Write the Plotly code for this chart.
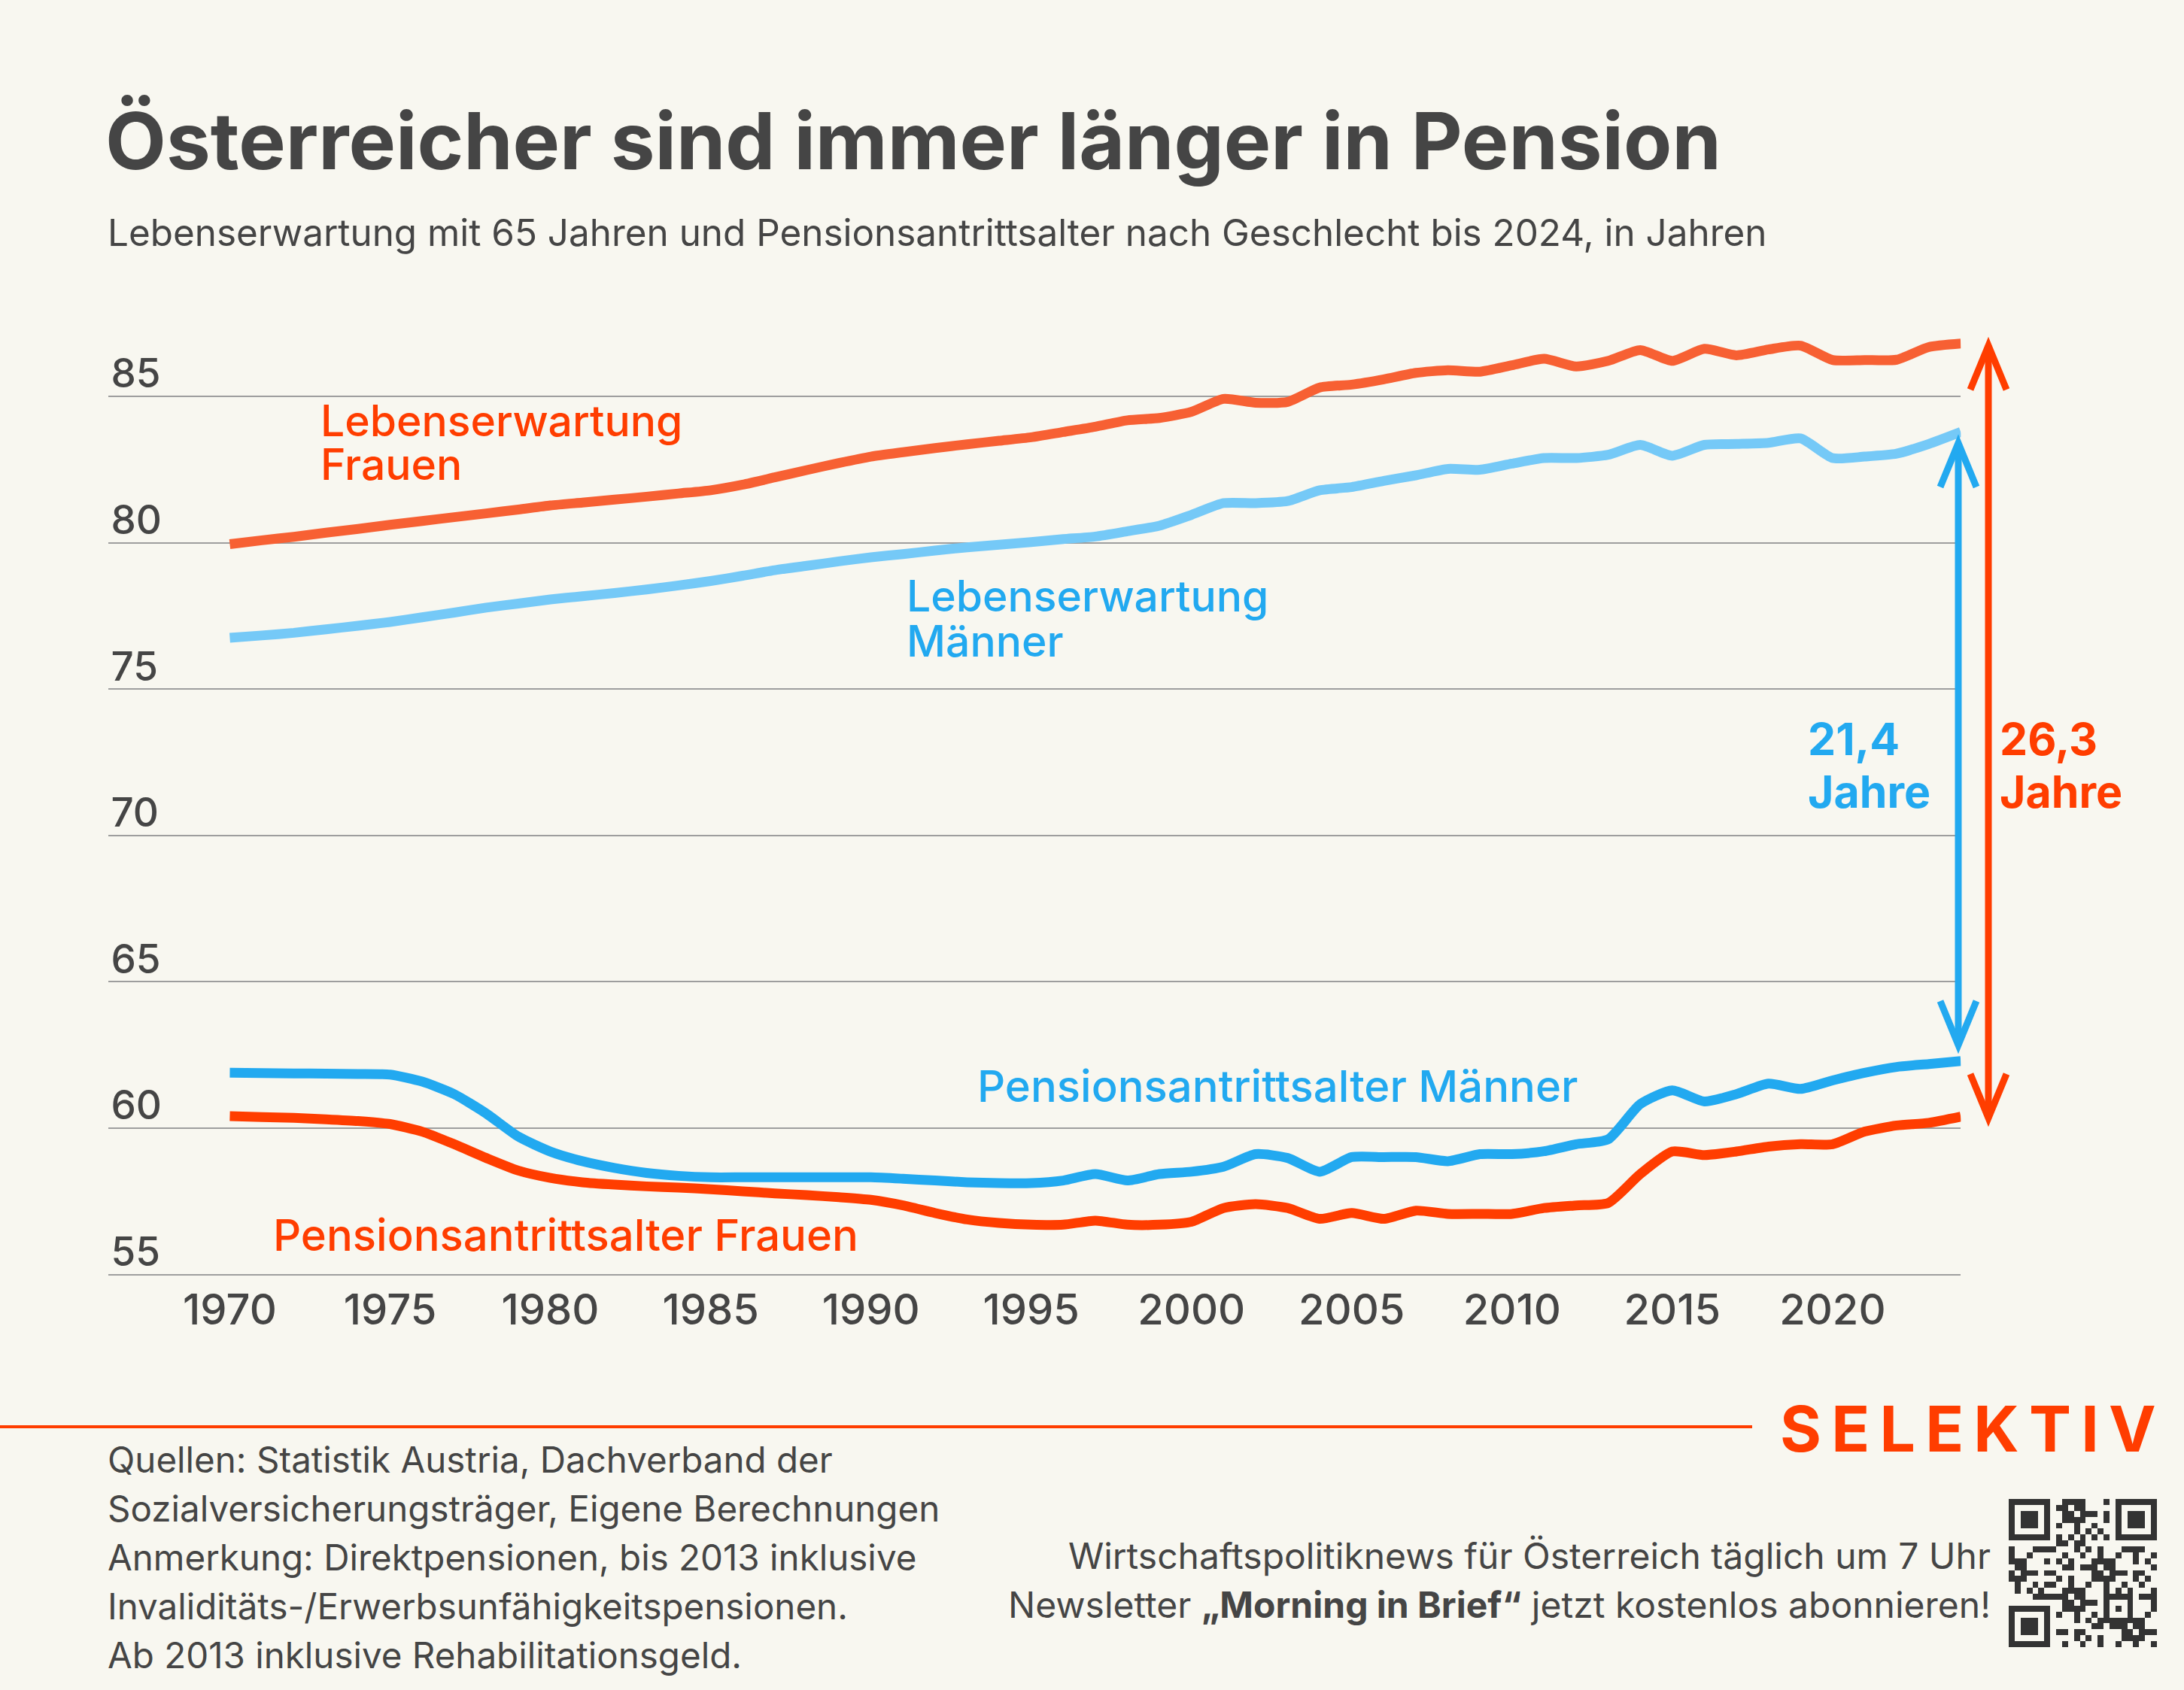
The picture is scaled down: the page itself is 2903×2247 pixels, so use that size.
import plotly.graph_objects as go

W, H = 2903, 2247
FONT = "Inter"
BG = "#F8F7F0"
DARK = "#454545"
RED = "#FF3D00"
RED_LIGHT = "#F76033"
BLUE = "#22A9F0"
BLUE_LIGHT = "#75C9F7"

years = list(range(1970, 2025))

le_frauen = [79.95, 80.08, 80.20, 80.34, 80.47, 80.61, 80.74, 80.87, 81.00, 81.13,
             81.27, 81.37, 81.47, 81.57, 81.68, 81.79, 81.98, 82.23, 82.48, 82.72,
             82.94, 83.09, 83.23, 83.36, 83.48, 83.60, 83.78, 83.96, 84.18, 84.26,
             84.47, 84.91, 84.78, 84.81, 85.30, 85.40, 85.58, 85.80, 85.89, 85.84,
             86.06, 86.28, 86.02, 86.21, 86.58, 86.21, 86.62, 86.40, 86.60, 86.73,
             86.24, 86.24, 86.25, 86.68, 86.80]

le_maenner = [76.75, 76.83, 76.92, 77.04, 77.16, 77.29, 77.45, 77.61, 77.78, 77.92,
              78.06, 78.17, 78.28, 78.40, 78.54, 78.69, 78.87, 79.06, 79.21, 79.36,
              79.50, 79.61, 79.73, 79.84, 79.93, 80.02, 80.12, 80.21, 80.39, 80.58,
              80.95, 81.35, 81.35, 81.42, 81.79, 81.90, 82.11, 82.30, 82.52, 82.49,
              82.70, 82.89, 82.89, 83.00, 83.34, 82.97, 83.34, 83.37, 83.41, 83.56,
              82.89, 82.94, 83.04, 83.37, 83.78]

pa_maenner = [61.89, 61.88, 61.87, 61.86, 61.85, 61.83, 61.59, 61.16, 60.50, 59.71,
              59.20, 58.87, 58.64, 58.47, 58.37, 58.32, 58.32, 58.32, 58.32, 58.32,
              58.32, 58.27, 58.21, 58.15, 58.12, 58.12, 58.21, 58.43, 58.21, 58.43,
              58.51, 58.68, 59.11, 58.98, 58.51, 59.01, 59.01, 59.01, 58.87, 59.11,
              59.11, 59.21, 59.45, 59.62, 60.82, 61.29, 60.91, 61.16, 61.52, 61.34,
              61.63, 61.89, 62.09, 62.19, 62.29]

pa_frauen = [60.41, 60.38, 60.35, 60.30, 60.24, 60.14, 59.88, 59.45, 58.98, 58.55,
             58.30, 58.15, 58.07, 58.01, 57.97, 57.91, 57.84, 57.77, 57.71, 57.64,
             57.55, 57.36, 57.10, 56.88, 56.76, 56.70, 56.70, 56.84, 56.70, 56.70,
             56.80, 57.27, 57.40, 57.27, 56.90, 57.10, 56.90, 57.18, 57.07, 57.07,
             57.07, 57.27, 57.36, 57.44, 58.43, 59.20, 59.08, 59.20, 59.37, 59.45,
             59.45, 59.88, 60.09, 60.18, 60.39]

x_ticks = [1970, 1975, 1980, 1985, 1990, 1995, 2000, 2005, 2010, 2015, 2020]
y_ticks = [55, 60, 65, 70, 75, 80, 85]

gap_maenner = "21,4"
gap_frauen = "26,3"

source_lines = [
    "Quellen: Statistik Austria, Dachverband der",
    "Sozialversicherungsträger, Eigene Berechnungen",
    "Anmerkung: Direktpensionen, bis 2013 inklusive",
    "Invaliditäts-/Erwerbsunfähigkeitspensionen.",
    "Ab 2013 inklusive Rehabilitationsgeld.",
]
promo_lines = [
    "Wirtschaftspolitiknews für Österreich täglich um 7 Uhr",
    "Newsletter <b>„Morning in Brief“</b> jetzt kostenlos abonnieren!",
]


def px(x):
    return x / W


def py(y):
    return 1 - y / H


fig = go.Figure()

series = [
    (le_maenner, BLUE_LIGHT, 13),
    (le_frauen, RED_LIGHT, 13),
    (pa_maenner, BLUE, 13),
    (pa_frauen, RED, 13),
]
for vals, col, lw in series:
    fig.add_trace(go.Scatter(
        x=years, y=vals, mode="lines",
        line=dict(color=col, width=lw, shape="spline", smoothing=0.6),
        hoverinfo="skip", showlegend=False,
    ))

# decorative QR-like block in the footer
n = 25
qr = [[0] * n for _ in range(n)]
for r in range(n):
    for c in range(n):
        qr[r][c] = 1 if ((r * 7 + c * 11 + r * c) % 5 < 2) ^ ((r + c) % 3 == 0) else 0
for r0, c0 in [(0, 0), (0, n - 7), (n - 7, 0)]:
    for r in range(-1, 8):
        for c in range(-1, 8):
            rr, cc = r0 + r, c0 + c
            if 0 <= rr < n and 0 <= cc < n:
                edge = r in (0, 6) or c in (0, 6)
                core = 2 <= r <= 4 and 2 <= c <= 4
                inside = 0 <= r <= 6 and 0 <= c <= 6
                qr[rr][cc] = 1 if inside and (edge or core) else 0
for i in range(8, n - 8):
    qr[6][i] = 1 - i % 2
    qr[i][6] = 1 - i % 2
for r in range(5):
    for c in range(5):
        qr[16 + r][16 + c] = 1 if r in (0, 4) or c in (0, 4) or (r == 2 and c == 2) else 0
fig.add_trace(go.Heatmap(
    z=qr, xaxis="x2", yaxis="y2", showscale=False, hoverinfo="skip",
    colorscale=[[0, BG], [1, "#333333"]], zmin=0, zmax=1,
))

fig.update_layout(
    width=W, height=H,
    margin=dict(l=0, r=0, t=0, b=0),
    paper_bgcolor=BG, plot_bgcolor=BG,
    xaxis=dict(
        domain=[px(144.4), px(2606.3)], range=[1966.22, 2024.0],
        anchor="free", position=py(1695.5),
        tickvals=x_ticks, showgrid=False, zeroline=False, showline=False, ticks="",
        tickfont=dict(family=FONT, size=56, color=DARK, weight=500),
        ticklabelstandoff=8,
    ),
    yaxis=dict(
        domain=[py(1706.2), py(429.6)], range=[54.7, 87.5],
        tickvals=y_ticks, showgrid=True, gridcolor="#9E9E9E", gridwidth=1.5,
        zeroline=False, showline=False, ticks="",
        ticklabelposition="inside top", ticklabelshift=7,
        tickfont=dict(family=FONT, size=53, color=DARK, weight=500),
    ),
    xaxis2=dict(domain=[px(2670), px(2867)], visible=False, anchor="y2"),
    yaxis2=dict(domain=[py(2190), py(1993)], visible=False, anchor="x2",
                autorange="reversed"),
)


def label(lines, x, baseline, size, color, weight=400, anchor="left", spacing=None):
    # several lines in one annotation; line gap set through the base font size
    if isinstance(lines, str):
        lines = [lines]
    base = spacing / 1.3 if spacing else size
    text = "<br>".join(f'<span style="font-size:{size}px">{t}</span>' for t in lines)
    gap = spacing or 0
    mid = baseline + gap * (len(lines) - 1) / 2 - 0.34 * size
    fig.add_annotation(
        text=text, xref="paper", yref="paper",
        x=px(x), y=py(mid), align=anchor,
        xanchor=anchor, yanchor="middle", showarrow=False,
        font=dict(family=FONT, size=base, color=color, weight=weight),
    )


# title block
label("Österreicher sind immer länger in Pension", 138, 222, 105, DARK, 700)
label("Lebenserwartung mit 65 Jahren und Pensionsantrittsalter nach Geschlecht bis 2024, in Jahren",
      141, 326, 49.4, DARK)

# series labels
label(["Lebenserwartung", "Frauen"], 424, 579, 57, RED, 500, spacing=58)
label(["Lebenserwartung", "Männer"], 1203, 812, 57, BLUE, 500, spacing=60)
label("Pensionsantrittsalter Männer", 1297, 1464, 58, BLUE, 500)
label("Pensionsantrittsalter Frauen", 361, 1662, 58, RED, 500)

# gap labels
label([gap_maenner, "Jahre"], 2401, 1003, 59, BLUE, 700, spacing=70)
label([gap_frauen, "Jahre"], 2656, 1003, 59, RED, 700, spacing=70)

# arrows between pension age and life expectancy in 2024
head_dx = 24 / W
head_dy = 1.5
arrows = [
    (px(2603), pa_maenner[-1] + 0.55, le_maenner[-1] - 0.38, BLUE),
    (px(2643), pa_frauen[-1] - 0.04, le_frauen[-1] - 0.07, RED),
]
for ax_x, lo, hi, col in arrows:
    fig.add_shape(type="line", xref="paper", yref="y", x0=ax_x, x1=ax_x, y0=lo, y1=hi,
                  line=dict(color=col, width=9))
    for tip, sign in [(hi, -1), (lo, 1)]:
        fig.add_shape(
            type="path", xref="paper", yref="y",
            path=f"M {ax_x - head_dx},{tip + sign * head_dy} L {ax_x},{tip} L {ax_x + head_dx},{tip + sign * head_dy}",
            line=dict(color=col, width=9),
        )

# footer
fig.add_shape(type="line", xref="paper", yref="paper", x0=0, x1=px(2329),
              y0=py(1897), y1=py(1897), line=dict(color=RED, width=4))
label("S\u2009E\u2009L\u2009E\u2009K\u2009T\u2009I\u2009V", 2364, 1928, 84, RED, 700)

label(source_lines, 141, 1957, 47.5, DARK, spacing=65)
label(promo_lines, 2648, 2085, 48, DARK, anchor="right", spacing=65)

fig.write_html("out.html", config={"displayModeBar": False},
               post_script="document.body.style.margin='0';")
